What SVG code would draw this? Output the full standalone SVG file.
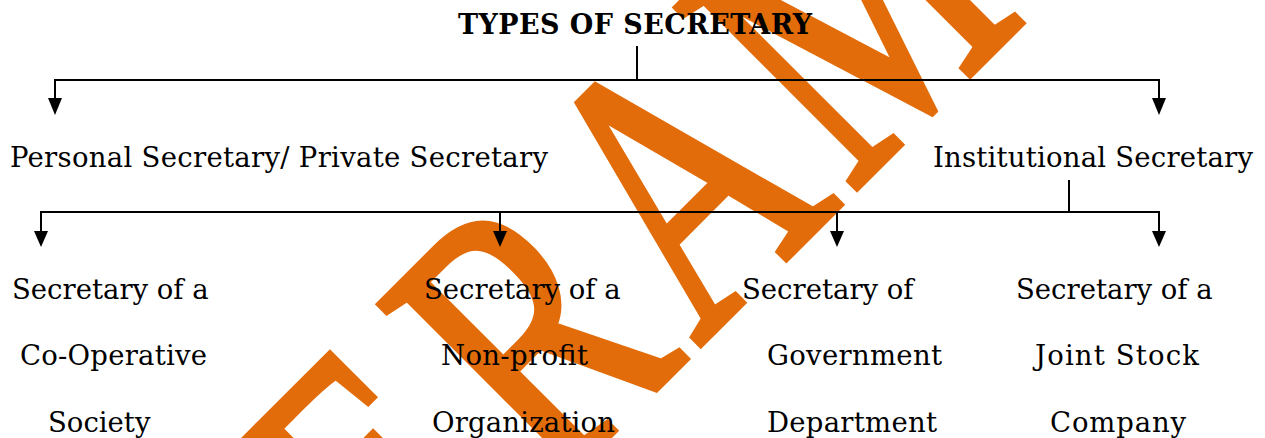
<svg xmlns="http://www.w3.org/2000/svg" width="1265" height="438" viewBox="0 0 1265 438">
  <style>
    .lbl { font-family: "DejaVu Serif", "Liberation Serif", serif; font-size: 27.5px; fill: #000; }
    .ttl { font-family: "DejaVu Serif", "Liberation Serif", serif; font-size: 27px; font-weight: bold; fill: #000; }
    .wm { font-family: "Liberation Serif", "Times New Roman", serif; font-size: 390px; fill: #E36C0A; stroke: #E36C0A; stroke-width: 6px; stroke-linejoin: miter; stroke-miterlimit: 2; vector-effect: non-scaling-stroke; }
    .ln { stroke: #000; stroke-width: 2; fill: none; }
  </style>
  <rect width="1265" height="438" fill="#fff"/>

  <!-- diagonal watermark, behind everything -->
  <g id="watermark">
    <text class="wm" transform="rotate(-45) scale(0.725,1)" x="-225 61 342.5 640" y="739">ERAM</text>
  </g>

  <g id="connectors">
    <line class="ln" x1="637" y1="46" x2="637" y2="80"/>
    <line class="ln" x1="54" y1="80" x2="1160" y2="80"/>
    <line class="ln" x1="55" y1="80" x2="55" y2="99"/>
    <path d="M48,98 L62,98 L55,115 Z"/>
    <line class="ln" x1="1159" y1="80" x2="1159" y2="99"/>
    <path d="M1152,98 L1166,98 L1159,115 Z"/>

    <line class="ln" x1="1069" y1="180" x2="1069" y2="212"/>
    <line class="ln" x1="40" y1="212" x2="1160" y2="212"/>
    <line class="ln" x1="41" y1="212" x2="41" y2="232"/>
    <path d="M34,231 L48,231 L41,247 Z"/>
    <line class="ln" x1="500" y1="212" x2="500" y2="232"/>
    <path d="M493,231 L507,231 L500,247 Z"/>
    <line class="ln" x1="837" y1="212" x2="837" y2="232"/>
    <path d="M830,231 L844,231 L837,247 Z"/>
    <line class="ln" x1="1159" y1="212" x2="1159" y2="232"/>
    <path d="M1152,231 L1166,231 L1159,247 Z"/>
  </g>

  <g id="title">
    <text class="ttl" x="458" y="34" textLength="354">TYPES OF SECRETARY</text>
  </g>
  <g id="personal">
    <text class="lbl" x="10" y="167" textLength="538">Personal Secretary/ Private Secretary</text>
  </g>
  <g id="institutional">
    <text class="lbl" x="933" y="167" textLength="320">Institutional Secretary</text>
  </g>
  <g id="cooperative">
    <text class="lbl" x="12" y="299">Secretary of a</text>
    <text class="lbl" x="20" y="365" textLength="187">Co-Operative</text>
    <text class="lbl" x="48" y="432">Society</text>
  </g>
  <g id="nonprofit">
    <text class="lbl" x="424" y="299">Secretary of a</text>
    <text class="lbl" x="441" y="365" textLength="147">Non-profit</text>
    <text class="lbl" x="432" y="432" textLength="183">Organization</text>
  </g>
  <g id="government">
    <text class="lbl" x="742" y="299">Secretary of</text>
    <text class="lbl" x="767" y="365" textLength="175">Government</text>
    <text class="lbl" x="767" y="432" textLength="170">Department</text>
  </g>
  <g id="jointstock">
    <text class="lbl" x="1016" y="299">Secretary of a</text>
    <text class="lbl" x="1035" y="365" textLength="164">Joint Stock</text>
    <text class="lbl" x="1050" y="432" textLength="136">Company</text>
  </g>
</svg>
